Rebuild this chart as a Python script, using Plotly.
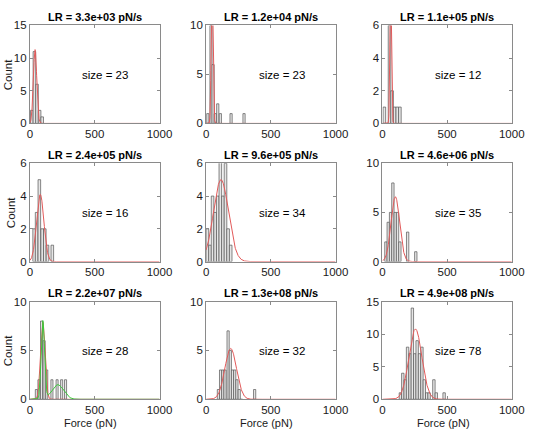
import numpy as np
import plotly.graph_objects as go

W, H = 540, 441

# ---------------- data ----------------
titles = ["LR = 3.3e+03 pN/s", "LR = 1.2e+04 pN/s", "LR = 1.1e+05 pN/s",
          "LR = 2.4e+05 pN/s", "LR = 9.6e+05 pN/s", "LR = 4.6e+06 pN/s",
          "LR = 2.2e+07 pN/s", "LR = 1.3e+08 pN/s", "LR = 4.9e+08 pN/s"]
sizes = [23, 23, 12, 16, 34, 35, 28, 32, 78]
ymax = [15, 10, 6, 6, 6, 10, 10, 10, 15]
yticks = [[0, 5, 10, 15], [0, 5, 10], [0, 2, 4, 6],
          [0, 2, 4, 6], [0, 2, 4, 6], [0, 5, 10],
          [0, 5, 10], [0, 5, 10], [0, 5, 10, 15]]
xticks = [0, 500, 1000]

bin_width = [20, 17, 20, 20, 20, 18, 16, 17, 18.5]
centers1 = [15, 35, 55, 75, 95]
counts1 = [2, 11, 6, 2, 1]
centers2 = [13, 38, 54, 71, 90, 110, 193, 293]
counts2 = [1, 10, 6, 1, 2, 1, 1, 1]
centers3 = [15, 55, 75, 95, 115, 135]
counts3 = [1, 6, 2, 1, 1, 1]
centers4 = [33, 52, 73, 95, 115, 136, 173]
counts4 = [2, 3, 5, 2, 2, 1, 1]
centers5 = [10, 30, 50, 70, 90, 110, 130, 150, 170, 190]
counts5 = [2, 1, 4, 3, 4, 7, 4, 6, 2, 1]
centers6 = [27, 45, 63, 81, 99, 117, 135, 195, 258]
counts6 = [2, 4, 5, 8, 5, 5, 2, 3, 1]
centers7 = [50, 70, 90, 110, 130, 170, 210, 245, 275]
counts7 = [1, 2, 8, 6, 3, 2, 2, 2, 2]
centers8 = [95, 112, 129, 146, 170, 187, 204, 221, 238, 256, 273, 375]
counts8 = [1, 3, 3, 3, 7, 5, 3, 3, 2, 1, 0, 1]
centers9 = [139, 157.5, 176, 194.5, 213, 231.5, 250, 268.5, 287, 305.5,
            324, 342.5, 361, 398, 416.5, 477]
counts9 = [1, 4, 3, 8, 7, 14, 7, 9, 7, 8, 3, 1, 1, 3, 1, 1]
centers = [centers1, centers2, centers3, centers4, centers5,
           centers6, centers7, centers8, centers9]
counts = [counts1, counts2, counts3, counts4, counts5,
          counts6, counts7, counts8, counts9]

# fitted normal curves (amplitude, mean, sigma)
fit_amp = [11.3, 15.0, 9.0, 4.1, 5.0, 6.6, 7.9, 5.2, 10.8]
fit_mu = [40, 47, 64, 80, 115, 100, 100, 190, 255]
fit_sigma = [13, 7, 6, 28, 58, 33, 17, 45, 50]
# second (green) mixture fit in panel 7
green_amp = [8.0, 1.5]
green_mu = [100, 215]
green_sigma = [13, 45]

# ---------------- layout geometry (pixels) ----------------
col_px = [(27.7, 161.3), (209.3, 342.7), (391.0, 524.3)]
row_px = [(20.0, 120.7), (161.7, 262.7), (303.8, 404.3)]

FONT = "Liberation Sans, Arial, Helvetica, sans-serif"
TXT = "#1a1a1a"
AX = "#8a8a8a"
RED = "#e25a5a"
GREEN = "#3cc83c"

fig = go.Figure()
layout = dict(width=W, height=H, margin=dict(l=0, r=0, t=0, b=0),
              paper_bgcolor="white", plot_bgcolor="white",
              showlegend=False, barmode="overlay",
              font=dict(family=FONT, color=TXT, size=11))
annotations = []

xs = np.linspace(0, 1000, 1001)

def gauss(a, m, s):
    return a * np.exp(-(xs - m) ** 2 / (2 * s ** 2))

for i in range(9):
    r, c = divmod(i, 3)
    k = "" if i == 0 else str(i + 1)
    x0, x1 = col_px[c]
    yt, yb = row_px[r]
    dx = [x0 / W, x1 / W]
    dy = [1 - yb / H, 1 - yt / H]
    layout["xaxis" + k] = dict(domain=dx, anchor="y" + k, range=[0, 1000],
                               tickvals=xticks, ticks="inside", ticklen=3,
                               tickcolor=AX, showline=True, linecolor=AX,
                               linewidth=1, mirror="allticks", showgrid=False,
                               zeroline=False, tickfont=dict(size=11.5, color=TXT),
                               fixedrange=True)
    layout["yaxis" + k] = dict(domain=dy, anchor="x" + k, range=[0, ymax[i]],
                               tickvals=yticks[i], ticks="inside", ticklen=3,
                               tickcolor=AX, showline=True, linecolor=AX,
                               linewidth=1, mirror="allticks", showgrid=False,
                               zeroline=False, tickfont=dict(size=11.5, color=TXT),
                               fixedrange=True)
    fig.add_trace(go.Bar(x=centers[i], y=counts[i], width=bin_width[i],
                         marker=dict(color="#e6e6e6",
                                     line=dict(color="#555555", width=0.7)),
                         xaxis="x" + k, yaxis="y" + k, hoverinfo="skip"))
    fig.add_trace(go.Scatter(x=xs, y=gauss(fit_amp[i], fit_mu[i], fit_sigma[i]),
                             mode="lines", line=dict(color=RED, width=1),
                             xaxis="x" + k, yaxis="y" + k, hoverinfo="skip"))
    if i == 6:
        g = gauss(green_amp[0], green_mu[0], green_sigma[0]) + \
            gauss(green_amp[1], green_mu[1], green_sigma[1])
        fig.add_trace(go.Scatter(x=xs, y=g, mode="lines",
                                 line=dict(color=GREEN, width=1),
                                 xaxis="x" + k, yaxis="y" + k, hoverinfo="skip"))
    # title
    annotations.append(dict(text="<b>" + titles[i] + "</b>", xref="paper", yref="paper",
                            x=(x0 + x1) / 2 / W, y=1 - (yt - 8.5) / H,
                            xanchor="center", yanchor="middle", showarrow=False,
                            font=dict(size=11, color="black")))
    # size text
    annotations.append(dict(text="size = %d" % sizes[i], xref="x" + k + " domain",
                            yref="y" + k + " domain", x=0.39, y=0.49,
                            xanchor="left", yanchor="middle", showarrow=False,
                            font=dict(size=11.5, color="black")))
    if c == 0:
        cx = 9 if r == 1 else 6
        annotations.append(dict(text="Count", xref="paper", yref="paper",
                                x=cx / W, y=1 - (yt + yb) / 2 / H, textangle=-90,
                                xanchor="center", yanchor="middle", showarrow=False,
                                font=dict(size=11.5, color=TXT)))
    if r == 2:
        annotations.append(dict(text="Force (pN)", xref="paper", yref="paper",
                                x=(x0 + x1) / 2 / W - 4 / W, y=1 - 428.5 / H,
                                xanchor="center", yanchor="middle", showarrow=False,
                                font=dict(size=11, color=TXT)))

layout["annotations"] = annotations
fig.update_layout(**layout)
fig.write_html("out.html")
